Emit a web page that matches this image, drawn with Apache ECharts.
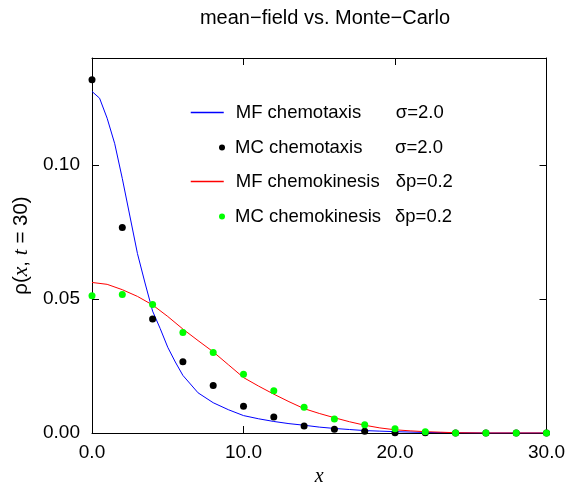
<!DOCTYPE html>
<html>
<head>
<meta charset="utf-8">
<script src="https://cdn.jsdelivr.net/npm/echarts@6/dist/echarts.min.js"></script>
<style>
  html, body { margin: 0; padding: 0; background: #fff; }
  #chart { width: 568px; height: 492px; }
</style>
</head>
<body>
<div id="chart"></div>
<script>
// Mean-field (MF) curves
var mfTaxisX = [0, 0.5, 1, 1.5, 2, 2.5, 3, 3.5, 4, 4.5, 5, 5.5, 6, 7, 8, 9, 10, 11, 12, 13, 14, 15, 16, 17, 18, 19, 20, 22, 24, 26, 28, 30];
var mfTaxisY = [0.1275, 0.1250, 0.1175, 0.1080, 0.0950, 0.0810, 0.0670, 0.0560, 0.0455, 0.0390, 0.0320, 0.0265, 0.0215, 0.0150, 0.0113, 0.0087, 0.0065, 0.0053, 0.0043, 0.0035, 0.0029, 0.0022, 0.0017, 0.0013, 0.0009, 0.0007, 0.0005, 0.0002, 0.0001, 0, 0, 0];

var mfKinesisX = [0, 1, 2, 3, 4, 5, 6, 7, 8, 9, 10, 11, 12, 13, 14, 15, 16, 17, 18, 19, 20, 21, 22, 23, 24, 26, 28, 30];
var mfKinesisY = [0.0562, 0.0555, 0.0535, 0.0510, 0.0478, 0.0435, 0.0388, 0.0345, 0.0303, 0.0255, 0.0207, 0.0175, 0.0145, 0.0117, 0.0091, 0.0073, 0.0057, 0.0042, 0.0029, 0.0019, 0.0012, 0.0008, 0.0005, 0.0003, 0.0001, 0, 0, 0];

// Monte-Carlo (MC) samples
var mcX = [0, 2, 4, 6, 8, 10, 12, 14, 16, 18, 20, 22, 24, 26, 28, 30];
var mcTaxisY = [0.1319, 0.0767, 0.0426, 0.0266, 0.0177, 0.0100, 0.0060, 0.0026, 0.0014, 0.0007, 0.0001, 0.0001, 0, 0, 0, 0];
var mcKinesisY = [0.0512, 0.0517, 0.0480, 0.0375, 0.0301, 0.0219, 0.0158, 0.0096, 0.0052, 0.0031, 0.0016, 0.0005, 0, 0, 0, 0];

var xTicks = [0, 10, 20, 30];
var yTicks = [0, 0.05, 0.10];

var seriesNames = ['MF chemotaxis', 'MC chemotaxis', 'MF chemokinesis', 'MC chemokinesis'];
var seriesColors = ['#0000ff', '#000000', '#ff0000', '#00ff00'];
var paramLabels = {
  'MF chemotaxis': 'σ=2.0',
  'MC chemotaxis': 'σ=2.0',
  'MF chemokinesis': 'δp=0.2',
  'MC chemokinesis': 'δp=0.2'
};

function pairs(xs, ys) {
  return xs.map(function (x, i) { return [x, ys[i]]; });
}

var SANS = '"Liberation Sans", Arial, sans-serif';
var SERIF = '"Liberation Serif", "Times New Roman", serif';
var FS = 18.5;

function legendRich(pad) {
  return {
    a: { fontFamily: SANS, fontSize: FS, color: '#000', width: 160, lineHeight: 20, padding: [0, 0, 0, pad] },
    b: { fontFamily: SANS, fontSize: FS, color: '#000', lineHeight: 20 }
  };
}
function legendFormatter(name) {
  return '{a|' + name + '}{b|' + paramLabels[name] + '}';
}
// legend key for a line series: coloured stroke, no marker
function lineKey(i) {
  return { name: seriesNames[i], lineStyle: { color: seriesColors[i], width: 1.5 } };
}

var chart = echarts.init(document.getElementById('chart'), null, { renderer: 'canvas' });

var axisLine = { show: true, onZero: false, lineStyle: { color: '#000', width: 1 } };
var tick = { show: true, inside: true, length: 7, lineStyle: { color: '#000', width: 1 } };

chart.setOption({
  animation: false,
  backgroundColor: '#fff',
  title: {
    text: 'mean−field vs. Monte−Carlo',
    left: 320,
    top: 3,
    textAlign: 'center',
    textStyle: { fontFamily: SANS, fontSize: 20, fontWeight: 'normal', color: '#000' }
  },
  legend: [
    {
      data: [lineKey(0), lineKey(2)],
      orient: 'vertical',
      left: 190,
      top: 103,
      padding: 0,
      itemWidth: 33,
      itemHeight: 14,
      itemGap: 50,
      selectedMode: false,
      itemStyle: { opacity: 0 },
      formatter: legendFormatter,
      textStyle: { rich: legendRich(7) }
    },
    {
      data: [seriesNames[1], seriesNames[3]],
      orient: 'vertical',
      left: 219,
      top: 138,
      padding: 0,
      itemWidth: 6,
      itemHeight: 6,
      itemGap: 50,
      selectedMode: false,
      formatter: legendFormatter,
      textStyle: { rich: legendRich(5) }
    }
  ],
  grid: { left: 92, right: 20, top: 58, bottom: 56, containLabel: false },
  xAxis: [
    {
      type: 'value', min: xTicks[0], max: xTicks[xTicks.length - 1], interval: 10,
      position: 'bottom',
      name: 'x', nameLocation: 'middle', nameGap: 34,
      nameTextStyle: { fontFamily: SERIF, fontStyle: 'italic', fontSize: 20, color: '#000' },
      axisLine: axisLine, axisTick: tick, splitLine: { show: false },
      axisLabel: {
        fontFamily: SANS, fontSize: 19, color: '#000', margin: 10,
        formatter: function (v) { return v.toFixed(1); }
      }
    },
    {
      type: 'value', min: xTicks[0], max: xTicks[xTicks.length - 1], interval: 10,
      position: 'top',
      axisLine: axisLine, axisTick: tick, splitLine: { show: false },
      axisLabel: { show: false }
    }
  ],
  yAxis: [
    {
      type: 'value', min: 0, max: 0.14, interval: 0.05,
      position: 'left',
      name: '{r|ρ(}{i|x}{r|, }{i|t}{r| = 30)}',
      nameLocation: 'middle', nameGap: 54, nameRotate: 90,
      nameTextStyle: {
        rich: {
          r: { fontFamily: SANS, fontSize: 20.5, color: '#000' },
          i: { fontFamily: SERIF, fontStyle: 'italic', fontSize: 21.5, color: '#000' }
        }
      },
      axisLine: axisLine, axisTick: tick, splitLine: { show: false },
      axisLabel: {
        fontFamily: SANS, fontSize: 19, color: '#000', margin: 12,
        showMaxLabel: false,
        formatter: function (v) { return yTicks.some(function (t) { return Math.abs(t - v) < 1e-9; }) ? v.toFixed(2) : ''; }
      }
    },
    {
      type: 'value', min: 0, max: 0.14, interval: 0.05,
      position: 'right',
      axisLine: axisLine, axisTick: tick, splitLine: { show: false },
      axisLabel: { show: false }
    }
  ],
  series: [
    {
      name: seriesNames[0], type: 'line', data: pairs(mfTaxisX, mfTaxisY),
      showSymbol: false, color: seriesColors[0],
      lineStyle: { color: seriesColors[0], width: 1 }, z: 2
    },
    {
      name: seriesNames[1], type: 'scatter', data: pairs(mcX, mcTaxisY),
      symbol: 'circle', symbolSize: 7, color: seriesColors[1],
      itemStyle: { color: seriesColors[1], opacity: 1 }, z: 3
    },
    {
      name: seriesNames[2], type: 'line', data: pairs(mfKinesisX, mfKinesisY),
      showSymbol: false, color: seriesColors[2],
      lineStyle: { color: seriesColors[2], width: 1 }, z: 4
    },
    {
      name: seriesNames[3], type: 'scatter', data: pairs(mcX, mcKinesisY),
      symbol: 'circle', symbolSize: 7, color: seriesColors[3],
      itemStyle: { color: seriesColors[3], opacity: 1 }, z: 5
    }
  ]
});
</script>
</body>
</html>
